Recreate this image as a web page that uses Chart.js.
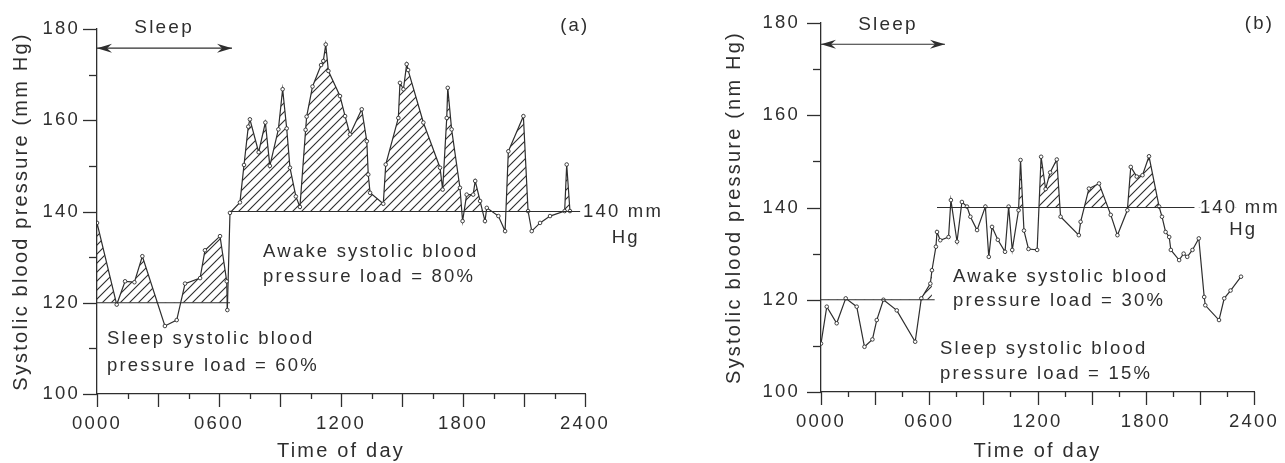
<!DOCTYPE html>
<html><head><meta charset="utf-8">
<script src="https://cdn.jsdelivr.net/npm/chart.js@4.4.1/dist/chart.umd.min.js"></script>
<style>
html,body{margin:0;padding:0;background:#fff;}
#wrap{position:relative;width:1285px;height:463px;overflow:hidden;background:#fff;}
canvas{position:absolute;top:0;}
#cA{left:0;} #cB{left:642px;}
</style></head><body>
<div id="wrap"><canvas id="cA" width="700" height="463"></canvas><canvas id="cB" width="643" height="463"></canvas></div>
<script>
// ---------- data (hours after midnight, systolic mm Hg) ----------
const leftSleepHours = [0, 0.97, 1.38, 1.84, 2.23, 3.34, 3.92, 4.33, 5.07, 5.31, 6.05, 6.38, 6.41];
const leftSleepBP    = [137.5, 119.6, 124.7, 124.5, 130.2, 114.9, 116.2, 124.2, 125.4, 131.5, 134.6, 124.7, 118.4];
const leftAwakeHours = [6.54, 7.03, 7.23, 7.44, 7.52, 7.95, 8.28, 8.5, 8.92, 9.13, 9.33, 9.49, 9.78, 9.98, 10.26, 10.31, 10.6, 11.02, 11.13, 11.25, 11.38, 11.95, 12.2, 12.44, 13.02, 13.27, 13.34, 13.43, 14.08, 14.2, 14.82, 14.9, 15.07, 15.23, 15.3, 16.05, 16.87, 17.0, 17.2, 17.25, 17.44, 17.85, 17.98, 18.18, 18.5, 18.6, 18.84, 19.08, 19.17, 19.74, 20.07, 20.23, 20.97, 21.2, 21.38, 21.79, 22.28, 23.0, 23.1, 23.26];
const leftAwakeBP    = [139.7, 142, 150.2, 158.6, 160.2, 153, 159.5, 150, 158, 166.8, 158.2, 149.6, 143.3, 141, 157.9, 160.8, 167.4, 172.1, 173, 176.6, 170.8, 165.3, 160.9, 156.9, 162.4, 155.4, 148.1, 144.1, 141.7, 150.3, 160.5, 168.2, 166.8, 172.3, 171, 159.5, 149.6, 144.8, 160.5, 167.1, 158, 145.2, 137.9, 143.7, 143.7, 146.7, 142.3, 137.9, 140.8, 139, 135.7, 153.2, 160.9, 140.1, 135.7, 137.5, 139, 140.1, 150.3, 140.1];

const rightSleepHours = [0, 0.32, 0.87, 1.37, 1.98, 2.41, 2.85, 3.09, 3.46, 4.2, 5.22, 5.56, 6.06, 6.15];
const rightSleepBP    = [110.5, 118.5, 114.9, 120.3, 118.5, 109.8, 111.4, 115.6, 120, 117.7, 110.9, 120.3, 123.5, 126.4];
const rightAwakeHours = [6.37, 6.43, 6.61, 7.07, 7.2, 7.54, 7.81, 8.09, 8.28, 8.65, 9.11, 9.3, 9.48, 9.8, 10.2, 10.4, 10.6, 10.95, 11.06, 11.25, 11.5, 11.98, 12.2, 12.45, 12.7, 13.07, 13.28, 14.29, 14.39, 14.85, 15.41, 16.06, 16.43, 16.98, 17.17, 17.5, 17.82, 18.18, 18.74, 18.9, 19.1, 19.3, 19.39, 19.85, 20.1, 20.3, 20.59, 20.94, 21.24, 21.3, 22.06, 22.35, 22.7, 23.28];
const rightAwakeBP    = [131.5, 134.7, 132.9, 133.6, 141.6, 132.6, 141.2, 140.2, 138, 135.1, 140.2, 129.3, 135.8, 133, 130.4, 140.2, 130.8, 139.4, 150.3, 135, 131, 130.8, 151, 144, 147.6, 150.4, 138, 134, 136.9, 144.1, 145.2, 138.4, 134, 139.4, 148.8, 146.7, 147, 151.1, 140.2, 138, 134.7, 133.6, 130.8, 128.6, 130, 129.3, 130.8, 133.3, 120.6, 118.8, 115.6, 120.3, 122, 125];

// reference load thresholds: [level, fromHour, toHour]
const leftSleepRef  = [120, 0, 6.54];
const leftAwakeRef  = [140, 6.54, 23.76];
const rightSleepRef = [120, 0, 6.3];
const rightAwakeRef = [140, 6.43, 20.7];

// axis ticks
const xTickHours  = [0, 6, 12, 18, 24];
const xTickLabels = ['0000', '0600', '1200', '1800', '2400'];
const yTickValues = [100, 120, 140, 160, 180];
const yTickLabels = ['100', '120', '140', '160', '180'];

// ---------- styling ----------
const FONT = "'Liberation Sans', Arial, Helvetica, sans-serif";
const LS = '2.2px';
const INK = '#2e2e2e';

function makeHatch(){
  const s = 9;
  const c = document.createElement('canvas'); c.width = s; c.height = s;
  const g = c.getContext('2d');
  g.strokeStyle = '#2a2a2a'; g.lineWidth = 1.1;
  g.beginPath(); g.moveTo(-2, s + 2); g.lineTo(s + 2, -2); g.stroke();
  g.beginPath(); g.moveTo(-2, 2); g.lineTo(2, -2); g.stroke();
  g.beginPath(); g.moveTo(s - 2, s + 2); g.lineTo(s + 2, s - 2); g.stroke();
  return g.createPattern(c, 'repeat');
}
const HATCH = makeHatch();

function pts(hs, vs){ return hs.map((h, i) => ({x: h, y: vs[i]})); }

const spacingPlugin = {
  id: 'spacing',
  beforeUpdate(chart){ chart.ctx.letterSpacing = LS; },
  beforeLayout(chart){ chart.ctx.letterSpacing = LS; },
  beforeDraw(chart){ chart.ctx.letterSpacing = LS; }
};

const annotPlugin = {
  id: 'annot',
  afterDraw(chart, args, o){
    const {ctx} = chart;
    const xs = chart.scales.x, ys = chart.scales.y;
    const X = v => xs.getPixelForValue(v), Y = v => ys.getPixelForValue(v);
    ctx.save();
    ctx.letterSpacing = LS;
    ctx.strokeStyle = INK; ctx.fillStyle = INK; ctx.lineWidth = 1.3;
    // tick marks
    xs.ticks.forEach(t => {
      const px = Math.round(X(t.value)) + 0.5;
      const major = Math.abs(t.value / 3 - Math.round(t.value / 3)) < 1e-6;
      ctx.beginPath(); ctx.moveTo(px, xs.top); ctx.lineTo(px, xs.top + (major ? 13 : 5)); ctx.stroke();
    });
    ys.ticks.forEach(t => {
      const py = Math.round(Y(t.value)) + 0.5;
      const major = t.value % 20 === 0;
      ctx.beginPath(); ctx.moveTo(ys.right, py); ctx.lineTo(ys.right - (major ? 14 : 8), py); ctx.stroke();
    });
    // sleep arrow
    const ay = Y(o.arrow.y), ax0 = X(o.arrow.from), ax1 = X(o.arrow.to);
    ctx.lineWidth = 1.1;
    ctx.beginPath(); ctx.moveTo(ax0, ay); ctx.lineTo(ax1, ay); ctx.stroke();
    const head = (xt, dir) => {
      ctx.beginPath(); ctx.moveTo(xt, ay); ctx.lineTo(xt - dir * 15, ay - 4.5);
      ctx.lineTo(xt - dir * 10, ay); ctx.lineTo(xt - dir * 15, ay + 4.5); ctx.closePath(); ctx.fill();
    };
    head(ax0, -1); head(ax1, 1);
    // texts
    ctx.textBaseline = 'middle';
    o.texts.forEach(t => {
      ctx.font = (t.size || 18.5) + 'px ' + FONT;
      ctx.textAlign = t.align || 'left';
      ctx.fillText(t.text, X(t.x), Y(t.y));
    });
    ctx.restore();
  }
};

function buildChart(canvasId, cfg){
  const sleep = pts(cfg.sleepH, cfg.sleepV);
  const awake = [sleep[sleep.length - 1]].concat(pts(cfg.awakeH, cfg.awakeV));
  const lineStyle = {
    borderColor: INK, borderWidth: 1.2, tension: 0,
    pointRadius: 1.8, pointBorderWidth: 0.9, pointBackgroundColor: '#fff', pointBorderColor: INK
  };
  const ref = r => ({
    data: [{x: r[1], y: r[0]}, {x: r[2], y: r[0]}],
    borderColor: INK, borderWidth: 1.2, pointRadius: 0, fill: false, tension: 0
  });
  return new Chart(document.getElementById(canvasId), {
    type: 'line',
    data: {datasets: [
      ref(cfg.sleepRef), ref(cfg.awakeRef),
      Object.assign({data: sleep, fill: {target: {value: cfg.sleepRef[0]}, above: HATCH, below: 'rgba(0,0,0,0)'}}, lineStyle),
      Object.assign({data: awake, fill: {target: {value: cfg.awakeRef[0]}, above: HATCH, below: 'rgba(0,0,0,0)'}},
        lineStyle, {pointRadius: c => c.dataIndex === 0 ? 0 : 1.8})
    ]},
    options: {
      responsive: false, animation: false, devicePixelRatio: 1,
      layout: {padding: {left: cfg.padLeft, right: cfg.padRight, top: cfg.top, bottom: 0}},
      plugins: {legend: {display: false}, tooltip: {enabled: false}, annot: cfg.annot},
      scales: {
        x: {
          type: 'linear', min: 0, max: 24,
          afterFit: s => { s.height = cfg.xHeight; },
          grid: {display: true, drawOnChartArea: false, drawTicks: true, tickLength: 13, tickColor: 'rgba(0,0,0,0)'},
          border: {display: true, color: INK, width: 1.3},
          ticks: {stepSize: 1.5, autoSkip: false, maxRotation: 0, padding: 6, color: INK,
            font: {family: FONT, size: 18.5},
            callback: v => { const i = xTickHours.indexOf(v); return i >= 0 ? xTickLabels[i] : ''; }},
          title: {display: true, text: 'Time of day', color: INK, font: {family: FONT, size: 20}, padding: {top: 0, bottom: 0}}
        },
        y: {
          type: 'linear', min: 100, max: 180,
          afterFit: s => { s.width = cfg.yWidth; },
          grid: {display: true, drawOnChartArea: false, drawTicks: true, tickLength: 14, tickColor: 'rgba(0,0,0,0)'},
          border: {display: true, color: INK, width: 1.3},
          ticks: {stepSize: 10, autoSkip: false, padding: cfg.yTickPad, color: INK,
            font: {family: FONT, size: 18.5},
            callback: v => { const i = yTickValues.indexOf(v); return i >= 0 ? yTickLabels[i] : ''; }},
          title: {display: true, text: cfg.yTitle, color: INK, font: {family: FONT, size: 20}, padding: {top: cfg.yTitlePad, bottom: 0}}
        }
      }
    },
    plugins: [spacingPlugin, annotPlugin]
  });
}

buildChart('cA', {
  sleepH: leftSleepHours, sleepV: leftSleepBP, awakeH: leftAwakeHours, awakeV: leftAwakeBP,
  sleepRef: leftSleepRef, awakeRef: leftAwakeRef,
  padLeft: 0, yWidth: 97, padRight: 115, top: 29, xHeight: 69, yTickPad: 3, yTitlePad: 9,
  yTitle: 'Systolic blood pressure (mm Hg)',
  annot: {
    arrow: {y: 175.8, from: 0, to: 6.64},
    texts: [
      {text: 'Sleep', x: 3.3, y: 180.2, align: 'center', size: 19},
      {text: '(a)', x: 23.5, y: 180.7, align: 'center'},
      {text: '140 mm', x: 23.9, y: 140},
      {text: 'Hg', x: 26.0, y: 134.2, align: 'center'},
      {text: 'Awake systolic blood', x: 8.17, y: 131.2},
      {text: 'pressure load = 80%', x: 8.17, y: 125.7},
      {text: 'Sleep systolic blood', x: 0.49, y: 112.1},
      {text: 'pressure load = 60%', x: 0.49, y: 106.2}
    ]
  }
});

buildChart('cB', {
  sleepH: rightSleepHours, sleepV: rightSleepBP, awakeH: rightAwakeHours, awakeV: rightAwakeBP,
  sleepRef: rightSleepRef, awakeRef: rightAwakeRef,
  padLeft: 80, yWidth: 99, padRight: 31, top: 23, xHeight: 71, yTickPad: 7, yTitlePad: 0,
  yTitle: 'Systolic blood pressure (nm Hg)',
  annot: {
    arrow: {y: 175.4, from: 0, to: 6.87},
    texts: [
      {text: 'Sleep', x: 3.71, y: 179.6, align: 'center', size: 19},
      {text: '(b)', x: 24.3, y: 179.8, align: 'center'},
      {text: '140 mm', x: 21.0, y: 140},
      {text: 'Hg', x: 23.4, y: 135.1, align: 'center'},
      {text: 'Awake systolic blood', x: 7.32, y: 124.9},
      {text: 'pressure load = 30%', x: 7.32, y: 119.7},
      {text: 'Sleep systolic blood', x: 6.6, y: 109.4},
      {text: 'pressure load = 15%', x: 6.6, y: 104.0}
    ]
  }
});
</script>
</body></html>
